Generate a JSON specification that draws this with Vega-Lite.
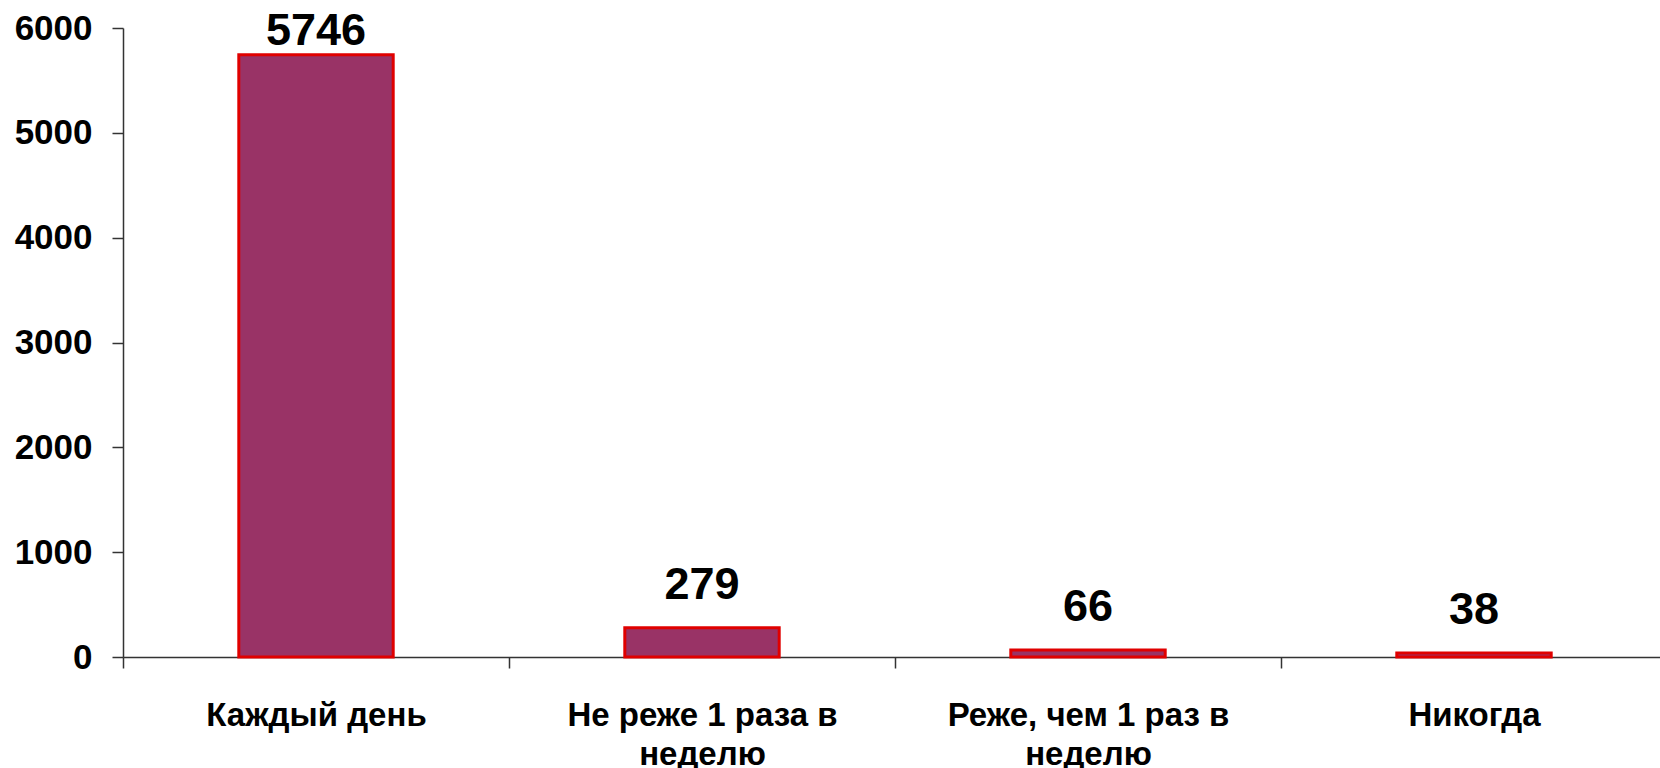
{
  "$schema": "https://vega.github.io/schema/vega-lite/v6.json",
  "width": 1544,
  "height": 629,
  "autosize": {"type": "none"},
  "padding": {"left": 123, "top": 28, "right": 0, "bottom": 111},
  "background": "white",
  "config": {"view": {"stroke": null}},
  "data": {"values": [
    {"category": "Каждый день", "value": 5746},
    {"category": "Не реже 1 раза в неделю", "value": 279},
    {"category": "Реже, чем 1 раз в неделю", "value": 66},
    {"category": "Никогда", "value": 38}
  ]},
  "encoding": {
    "x": {
      "field": "category", "type": "nominal", "sort": null,
      "scale": {"paddingInner": 0, "paddingOuter": 0},
      "axis": {
        "title": null, "labelAngle": 0, "labelLimit": 500,
        "labelExpr": "split(replace(datum.label, ' в неделю', ' в|неделю'), '|')",
        "labelFont": "Liberation Sans", "labelFontSize": 33, "labelFontWeight": "bold",
        "labelColor": "black", "labelLineHeight": 39, "labelPadding": 31,
        "labelBaseline": "top",
        "domainColor": "#333333", "domainWidth": 1.5,
        "tickColor": "#333333", "tickWidth": 1.5, "tickSize": 11, "tickBand": "extent",
        "grid": false
      }
    }
  },
  "layer": [
    {
      "mark": {"type": "bar", "color": "#993366", "stroke": "#e00000", "strokeWidth": 3, "width": {"band": 0.4}},
      "encoding": {
        "y": {
          "field": "value", "type": "quantitative",
          "scale": {"domain": [0, 6000], "nice": false},
          "axis": {
            "title": null, "values": [0, 1000, 2000, 3000, 4000, 5000, 6000], "format": "d",
            "labelFont": "Liberation Sans", "labelFontSize": 35, "labelFontWeight": "bold",
            "labelColor": "black", "labelPadding": 20,
            "domainColor": "#333333", "domainWidth": 1.5,
            "tickColor": "#333333", "tickWidth": 1.5, "tickSize": 11,
            "grid": false
          }
        }
      }
    },
    {
      "transform": [{"calculate": "min(datum.value, 5560)", "as": "labelPos"}],
      "mark": {"type": "text", "font": "Liberation Sans", "fontSize": 45, "fontWeight": "bold",
               "color": "black", "baseline": "bottom", "dy": -20},
      "encoding": {
        "y": {"field": "labelPos", "type": "quantitative"},
        "text": {"field": "value", "type": "quantitative"}
      }
    }
  ]
}
